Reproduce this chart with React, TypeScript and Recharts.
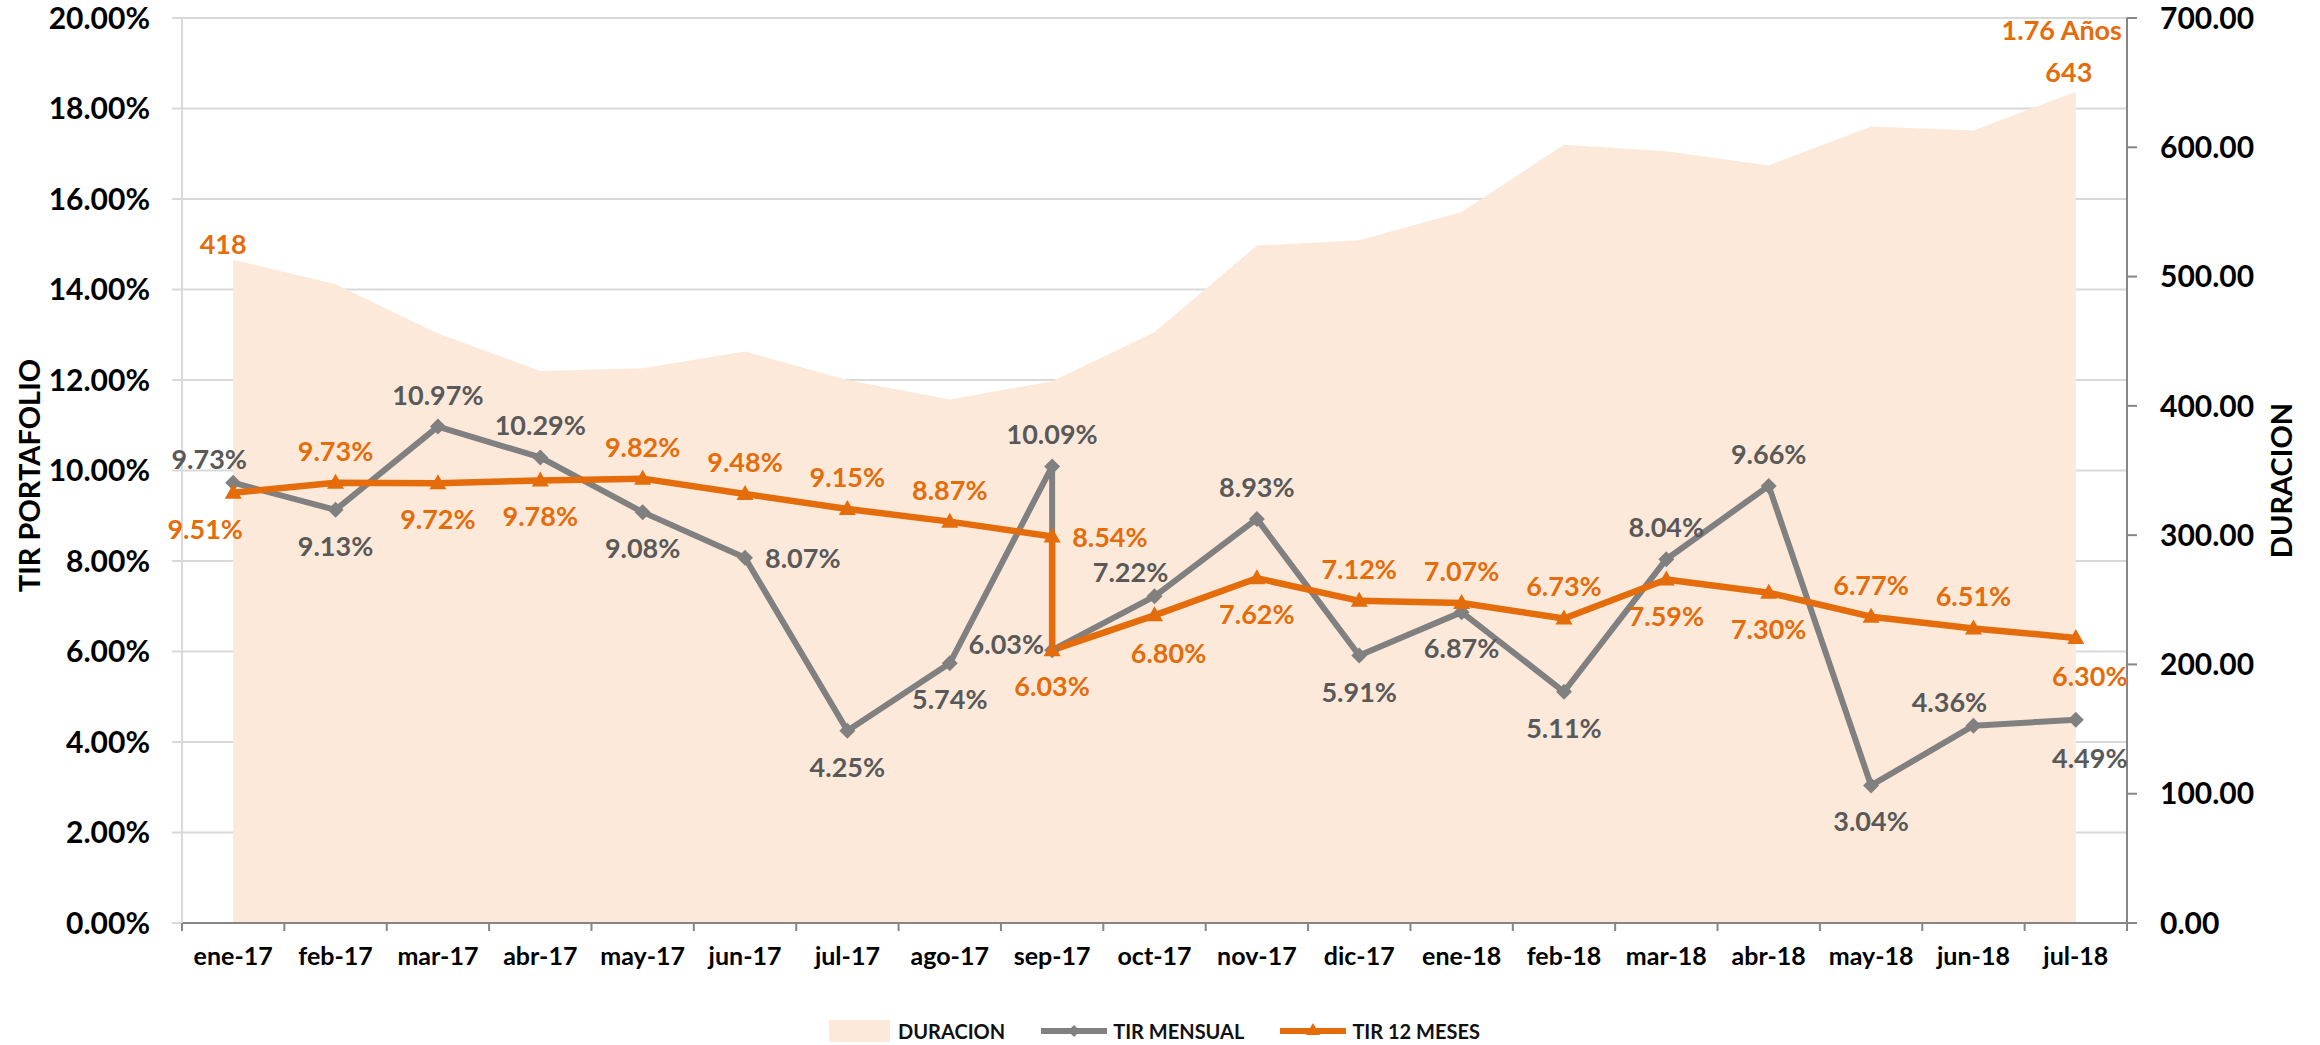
import React from 'react';
import { ComposedChart, Area, Line, XAxis, YAxis, CartesianGrid, Legend } from 'recharts';

const categories = ['ene-17', 'feb-17', 'mar-17', 'abr-17', 'may-17', 'jun-17', 'jul-17', 'ago-17', 'sep-17', 'oct-17', 'nov-17', 'dic-17', 'ene-18', 'feb-18', 'mar-18', 'abr-18', 'may-18', 'jun-18', 'jul-18'];
// one entry per plotted point (sep-17 holds two readings)
const pointCategory = ['ene-17', 'feb-17', 'mar-17', 'abr-17', 'may-17', 'jun-17', 'jul-17', 'ago-17', 'sep-17', 'sep-17', 'oct-17', 'nov-17', 'dic-17', 'ene-18', 'feb-18', 'mar-18', 'abr-18', 'may-18', 'jun-18', 'jul-18'];
const duracion = [513, 494, 456, 427, 429, 442, 420, 405, 419, 419, 457, 524, 528, 550, 602, 597, 586, 616, 613, 643];
const tirMensual = [9.73, 9.13, 10.97, 10.29, 9.08, 8.07, 4.25, 5.74, 10.09, 6.03, 7.22, 8.93, 5.91, 6.87, 5.11, 8.04, 9.66, 3.04, 4.36, 4.49];
const tir12Meses = [9.51, 9.73, 9.72, 9.78, 9.82, 9.48, 9.15, 8.87, 8.54, 6.03, 6.8, 7.62, 7.12, 7.07, 6.73, 7.59, 7.3, 6.77, 6.51, 6.3];
const leftTicks = [0, 2, 4, 6, 8, 10, 12, 14, 16, 18, 20];
const rightTicks = [0, 100, 200, 300, 400, 500, 600, 700];
const duracionFirstLabel = ['418'];
const duracionLastLabel = ['1.76 Años', '643'];
const seriesNames = ['DURACION', 'TIR MENSUAL', 'TIR 12 MESES'];
const leftTitle = 'TIR PORTAFOLIO';
const rightTitle = 'DURACION';

// label placement styles (not data)
const placeMensual = ['aboveLeft', 'below', 'above', 'above', 'below', 'right', 'below', 'below', 'above', 'left', 'aboveLeft', 'above', 'below', 'below', 'below', 'above', 'above', 'below', 'aboveLeft', 'belowRight'];
const place12 = ['belowLeft', 'above', 'below', 'below', 'above', 'above', 'above', 'above', 'right', 'below', 'belowRight', 'below', 'above', 'above', 'above', 'below', 'below', 'above', 'above', 'belowRight'];

const OFFSETS: Record<string, { dx: number; dy: number; anchor: string }> = {
  above: { dx: 0, dy: -22, anchor: 'middle' },
  below: { dx: 0, dy: 46, anchor: 'middle' },
  right: { dx: 20, dy: 10, anchor: 'start' },
  left: { dx: -8, dy: 4, anchor: 'end' },
  aboveLeft: { dx: -24, dy: -14, anchor: 'middle' },
  belowLeft: { dx: -28, dy: 46, anchor: 'middle' },
  belowRight: { dx: 14, dy: 48, anchor: 'middle' },
};

const FONT = 'Lato, "Open Sans", sans-serif';
const GRAY = '#808080';
const GRAY_TEXT = '#595959';
const ORANGE = '#E46C0A';
const AREA = '#FDE9D9';
const AXIS = '#868686';
const GRID = '#D9D9D9';
const LABEL_SIZE = 27;

const W = 2320;
const H = 1045;
const LEFT_W = 182;
const RIGHT_W = 193;
const PLOT_W = W - LEFT_W - RIGHT_W;
const HALF_BAND = PLOT_W / categories.length / 2;

const table = pointCategory.map((c, i) => ({
  x: categories.indexOf(c),
  dur: duracion[i],
  men: tirMensual[i],
  doce: tir12Meses[i],
}));

const diamondPath = (cx: number, cy: number, s: number) => `M${cx},${cy - s}L${cx + s},${cy}L${cx},${cy + s}L${cx - s},${cy}Z`;
const trianglePath = (cx: number, cy: number) => `M${cx},${cy - 9}L${cx + 8.5},${cy + 6}L${cx - 8.5},${cy + 6}Z`;

const DiamondDot = (p: any) => {
  const { cx, cy, index } = p;
  if (cx == null || cy == null) return <g key={`dd${index}`} />;
  return <path key={`dd${index}`} d={diamondPath(cx, cy, 8)} fill={GRAY} />;
};

const TriangleDot = (p: any) => {
  const { cx, cy, index } = p;
  if (cx == null || cy == null) return <g key={`td${index}`} />;
  return <path key={`td${index}`} d={trianglePath(cx, cy)} fill={ORANGE} />;
};

const makeLabelDot = (values: number[], placements: string[], color: string, prefix: string) => (p: any) => {
  const { cx, cy, index } = p;
  if (cx == null || cy == null) return <g key={`${prefix}${index}`} />;
  const o = OFFSETS[placements[index]] || OFFSETS.above;
  return (
    <text key={`${prefix}${index}`} x={cx + o.dx} y={cy + o.dy} textAnchor={o.anchor as any} fill={color} fontSize={LABEL_SIZE} fontWeight={700} fontFamily={FONT}>
      {values[index].toFixed(2)}%
    </text>
  );
};

const DurLabelDot = (p: any) => {
  const { cx, cy, index } = p;
  const last = duracion.length - 1;
  if (cx == null || cy == null || (index !== 0 && index !== last)) return <g key={`dl${index}`} />;
  if (index === 0) {
    return (
      <text key={`dl${index}`} x={cx - 10} y={cy - 6} textAnchor="middle" fill={ORANGE} fontSize={LABEL_SIZE} fontWeight={700} fontFamily={FONT}>
        {duracionFirstLabel[0]}
      </text>
    );
  }
  return (
    <g key={`dl${index}`}>
      <text x={cx - 14} y={cy - 52} textAnchor="middle" fill={ORANGE} fontSize={LABEL_SIZE} fontWeight={700} fontFamily={FONT}>
        {duracionLastLabel[0]}
      </text>
      <text x={cx - 7} y={cy - 10} textAnchor="middle" fill={ORANGE} fontSize={LABEL_SIZE} fontWeight={700} fontFamily={FONT}>
        {duracionLastLabel[1]}
      </text>
    </g>
  );
};

const XTick = (p: any) => {
  const { x, y, payload } = p;
  const i = payload.value;
  return (
    <g>
      <line x1={x - HALF_BAND} x2={x - HALF_BAND} y1={y - 24} y2={y - 16} stroke={AXIS} strokeWidth={2} />
      {i === categories.length - 1 && (
        <line x1={x + HALF_BAND} x2={x + HALF_BAND} y1={y - 24} y2={y - 16} stroke={AXIS} strokeWidth={2} />
      )}
      <text x={x} y={y} dy="0.71em" textAnchor="middle" fill="#000" fontSize={25} fontWeight={700} fontFamily={FONT}>
        {categories[i]}
      </text>
    </g>
  );
};

const LeftTitle = (p: any) => {
  const vb = p.viewBox || {};
  const cx = (vb.x || 0) + 28;
  const cy = (vb.y || 0) + (vb.height || 0) / 2 + 5;
  return (
    <text x={cx} y={cy} transform={`rotate(-90, ${cx}, ${cy})`} textAnchor="middle" dominantBaseline="central" fill="#000" fontSize={29} fontWeight={700} fontFamily={FONT}>
      {leftTitle}
    </text>
  );
};

const RightTitle = (p: any) => {
  const vb = p.viewBox || {};
  const cx = (vb.x || 0) + 153;
  const cy = (vb.y || 0) + (vb.height || 0) / 2 + 10;
  return (
    <text x={cx} y={cy} transform={`rotate(-90, ${cx}, ${cy})`} textAnchor="middle" dominantBaseline="central" fill="#000" fontSize={29} fontWeight={700} fontFamily={FONT}>
      {rightTitle}
    </text>
  );
};

const LegendContent = () => (
  <div
    style={{
      width: W,
      height: 44,
      boxSizing: 'border-box',
      paddingTop: 16,
      paddingRight: 11,
      display: 'flex',
      justifyContent: 'center',
      alignItems: 'center',
      fontFamily: FONT,
      fontWeight: 700,
      fontSize: 20,
      color: '#111',
    }}
  >
    <svg width={61} height={22} style={{ display: 'block' }}>
      <rect x={0} y={0} width={61} height={22} fill={AREA} />
    </svg>
    <span style={{ marginLeft: 8, marginRight: 36 }}>{seriesNames[0]}</span>
    <svg width={66} height={20} style={{ display: 'block' }}>
      <line x1={0} x2={66} y1={10} y2={10} stroke={GRAY} strokeWidth={6} strokeLinecap="round" />
      <path d={diamondPath(33, 10, 6)} fill={GRAY} />
    </svg>
    <span style={{ marginLeft: 6, marginRight: 36 }}>{seriesNames[1]}</span>
    <svg width={66} height={20} style={{ display: 'block' }}>
      <line x1={0} x2={66} y1={10} y2={10} stroke={ORANGE} strokeWidth={6} strokeLinecap="round" />
      <path d={`M33,2L40,14L26,14Z`} fill={ORANGE} />
    </svg>
    <span style={{ marginLeft: 6 }}>{seriesNames[2]}</span>
  </div>
);

export default function App() {
  return (
    <div style={{ position: 'absolute', left: 0, top: 0, width: W, height: H, background: '#fff' }}>
      <ComposedChart width={W} height={H} data={table} margin={{ top: 18, right: 0, bottom: 0, left: 0 }}>
        <CartesianGrid yAxisId="left" horizontal vertical={false} stroke={GRID} strokeWidth={2} />
        <XAxis
          dataKey="x"
          type="number"
          domain={[-0.5, categories.length - 0.5]}
          ticks={categories.map((_, i) => i)}
          interval={0}
          height={78}
          tickSize={10}
          tickMargin={14}
          tickLine={false}
          axisLine={{ stroke: AXIS, strokeWidth: 2 }}
          tick={<XTick />}
        />
        <YAxis
          yAxisId="left"
          orientation="left"
          width={LEFT_W}
          domain={[0, 20]}
          ticks={leftTicks}
          interval={0}
          tickFormatter={(v: number) => `${v.toFixed(2)}%`}
          axisLine={{ stroke: GRID, strokeWidth: 2 }}
          tickLine={{ stroke: GRID, strokeWidth: 2 }}
          tickSize={10}
          tickMargin={22}
          tick={{ fill: '#000', fontSize: 30, fontWeight: 700, fontFamily: FONT }}
          label={{ content: LeftTitle }}
        />
        <YAxis
          yAxisId="right"
          orientation="right"
          width={RIGHT_W}
          domain={[0, 700]}
          ticks={rightTicks}
          interval={0}
          tickFormatter={(v: number) => v.toFixed(2)}
          axisLine={{ stroke: AXIS, strokeWidth: 2 }}
          tickLine={{ stroke: AXIS, strokeWidth: 2 }}
          tickSize={10}
          tickMargin={23}
          tick={{ fill: '#000', fontSize: 30, fontWeight: 700, fontFamily: FONT }}
          label={{ content: RightTitle }}
        />
        <Legend verticalAlign="bottom" align="center" content={LegendContent} />
        <Area yAxisId="right" dataKey="dur" type="linear" stroke="none" fill={AREA} fillOpacity={1} isAnimationActive={false} dot={false} activeDot={false} />
        <Line yAxisId="left" dataKey="men" type="linear" stroke={GRAY} strokeWidth={6} strokeLinejoin="round" dot={DiamondDot} activeDot={false} isAnimationActive={false} />
        <Line yAxisId="left" dataKey="doce" type="linear" stroke={ORANGE} strokeWidth={6.5} strokeLinejoin="round" dot={TriangleDot} activeDot={false} isAnimationActive={false} />
        <Line yAxisId="right" dataKey="dur" type="linear" stroke="none" dot={DurLabelDot} activeDot={false} isAnimationActive={false} legendType="none" />
        <Line yAxisId="left" dataKey="men" type="linear" stroke="none" dot={makeLabelDot(tirMensual, placeMensual, GRAY_TEXT, 'lm')} activeDot={false} isAnimationActive={false} legendType="none" />
        <Line yAxisId="left" dataKey="doce" type="linear" stroke="none" dot={makeLabelDot(tir12Meses, place12, ORANGE, 'lo')} activeDot={false} isAnimationActive={false} legendType="none" />
      </ComposedChart>
    </div>
  );
}
